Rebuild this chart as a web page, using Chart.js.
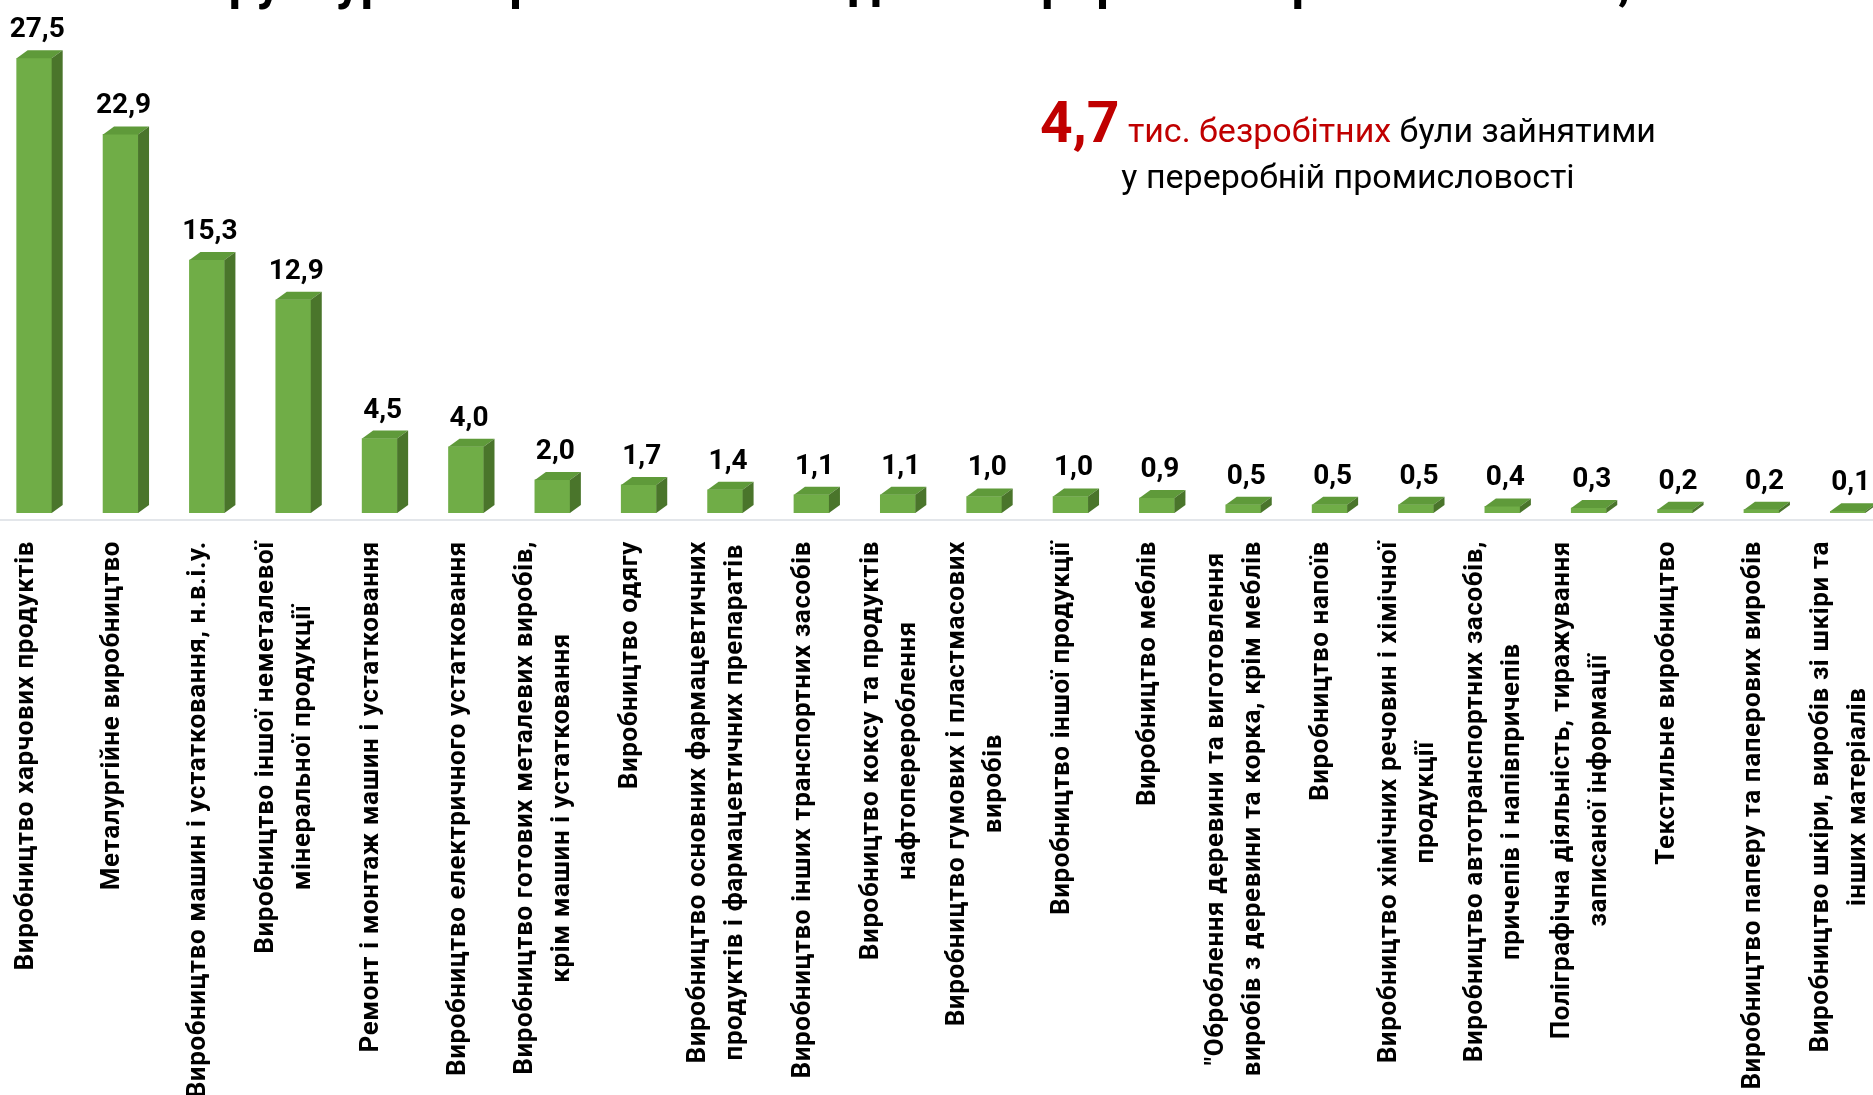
<!DOCTYPE html>
<html lang="uk">
<head>
<meta charset="utf-8">
<title>Структура безробітних за видами переробної промисловості</title>
<script src="https://cdn.jsdelivr.net/npm/chart.js@4.4.1/dist/chart.umd.min.js"></script>
<style>
  html, body { margin: 0; padding: 0; background: #fff; overflow: hidden; }
  #wrap { position: absolute; left: -9px; top: 0; width: 1900px; height: 1095px; }
</style>
</head>
<body>
<div id="wrap"><canvas id="chart" width="1900" height="1095"></canvas></div>
<script>
// Дані діаграми
const title = "Структура безробітних за видами переробної промисловості, %";

const categories = [
  ["Виробництво харчових продуктів"],
  ["Металургійне виробництво"],
  ["Виробництво машин і устатковання, н.в.і.у."],
  ["Виробництво іншої неметалевої", "мінеральної продукції"],
  ["Ремонт і монтаж машин і устатковання"],
  ["Виробництво електричного устатковання"],
  ["Виробництво готових металевих виробів,", "крім машин і устатковання"],
  ["Виробництво одягу"],
  ["Виробництво основних фармацевтичних", "продуктів і фармацевтичних препаратів"],
  ["Виробництво інших транспортних засобів"],
  ["Виробництво коксу та продуктів", "нафтоперероблення"],
  ["Виробництво гумових і пластмасових", "виробів"],
  ["Виробництво іншої продукції"],
  ["Виробництво меблів"],
  ["\"Оброблення деревини та виготовлення", "виробів з деревини та корка, крім меблів"],
  ["Виробництво напоїв"],
  ["Виробництво хімічних речовин і хімічної", "продукції"],
  ["Виробництво автотранспортних засобів,", "причепів і напівпричепів"],
  ["Поліграфічна діяльність, тиражування", "записаної інформації"],
  ["Текстильне виробництво"],
  ["Виробництво паперу та паперових виробів"],
  ["Виробництво шкіри, виробів зі шкіри та", "інших матеріалів"]
];

const shares = [27.5, 22.9, 15.3, 12.9, 4.5, 4.0, 2.0, 1.7, 1.4, 1.1, 1.1,
                1.0, 1.0, 0.9, 0.5, 0.5, 0.5, 0.4, 0.3, 0.2, 0.2, 0.1];

// підпис праворуч угорі
const totalValue = "4,7";
const noteRed = " тис. безробітних";
const noteBlack = " були зайнятими";
const noteLine2 = "у переробній промисловості";

// кольори
const frontColor = "#70ad47";
const topColor = "#5f9a3a";
const sideColor = "#4a752b";
const redColor = "#c00000";
const FONT = "Roboto, 'Liberation Sans', sans-serif";

const OX = 9; // зсув полотна ліворуч

const fmt = v => v.toFixed(1).replace(".", ",");

// малюємо "3D" грані, підписи та текст
const bar3d = {
  id: "bar3d",
  beforeDatasetsDraw(chart) {
    const ctx = chart.ctx;
    ctx.save();
    ctx.fillStyle = "#e3e6ea";
    ctx.fillRect(0, chart.chartArea.bottom + 6, chart.width, 2);
    ctx.restore();
  },
  afterDatasetsDraw(chart) {
    const ctx = chart.ctx;
    const dx = 11, dy = 8;
    const meta = chart.getDatasetMeta(0);
    ctx.save();
    meta.data.forEach((bar, i) => {
      const p = bar.getProps(["x", "y", "base", "width"], true);
      const l = p.x - p.width / 2, r = p.x + p.width / 2;
      // верх
      ctx.fillStyle = topColor;
      ctx.beginPath();
      ctx.moveTo(l, p.y);
      ctx.lineTo(l + dx, p.y - dy);
      ctx.lineTo(r + dx, p.y - dy);
      ctx.lineTo(r, p.y);
      ctx.closePath();
      ctx.fill();
      // бік
      ctx.fillStyle = sideColor;
      ctx.beginPath();
      ctx.moveTo(r, p.y);
      ctx.lineTo(r + dx, p.y - dy);
      ctx.lineTo(r + dx, p.base - dy);
      ctx.lineTo(r, p.base);
      ctx.closePath();
      ctx.fill();

      // значення
      ctx.fillStyle = "#000";
      ctx.font = "bold 28px " + FONT;
      ctx.textAlign = "center";
      ctx.textBaseline = "alphabetic";
      ctx.fillText(fmt(shares[i]), p.x + 3, p.y - dy - 13);

      // назва категорії (повернута)
      const lines = categories[i];
      ctx.font = "bold 26px " + FONT;
      ctx.letterSpacing = "0.6px";
      const w = Math.max(...lines.map(s => ctx.measureText(s).width));
      const lh = 37;
      ctx.save();
      ctx.translate(p.x - 8, chart.chartArea.bottom + 28);
      ctx.rotate(-Math.PI / 2);
      ctx.textBaseline = "middle";
      lines.forEach((s, k) => {
        ctx.fillText(s, -w / 2, (k - (lines.length - 1) / 2) * lh);
      });
      ctx.restore();
      ctx.letterSpacing = "0px";
    });

    // заголовок (обрізаний угорі)
    ctx.fillStyle = "#000";
    ctx.font = "bold 50px " + FONT;
    ctx.textAlign = "center";
    ctx.textBaseline = "alphabetic";
    ctx.fillText(title, 925 + OX, -1);

    // примітка
    const cx = 1348 + OX;
    ctx.textAlign = "left";
    const f1 = "bold 57px " + FONT, f2 = "34px " + FONT;
    ctx.font = f1; const w1 = ctx.measureText(totalValue).width;
    ctx.font = f2; const w2 = ctx.measureText(noteRed).width;
    const w3 = ctx.measureText(noteBlack).width;
    let sx = cx - (w1 + w2 + w3) / 2;
    ctx.fillStyle = redColor;
    ctx.font = f1; ctx.fillText(totalValue, sx, 142);
    ctx.font = f2; ctx.fillText(noteRed, sx + w1, 142);
    ctx.fillStyle = "#000";
    ctx.fillText(noteBlack, sx + w1 + w2, 142);
    ctx.textAlign = "center";
    ctx.fillText(noteLine2, cx, 188);
    ctx.restore();
  }
};

new Chart(document.getElementById("chart"), {
  type: "bar",
  data: {
    labels: categories,
    datasets: [{
      data: shares,
      backgroundColor: frontColor,
      borderWidth: 0,
      barThickness: 35
    }]
  },
  options: {
    responsive: false,
    animation: false,
    devicePixelRatio: 1,
    layout: { padding: { top: 17, bottom: 582, left: 0, right: 0 } },
    scales: {
      x: { display: false },
      y: { display: false, min: 0, max: 30 }
    },
    plugins: {
      legend: { display: false },
      tooltip: { enabled: false }
    }
  },
  plugins: [bar3d]
});
</script>
</body>
</html>
